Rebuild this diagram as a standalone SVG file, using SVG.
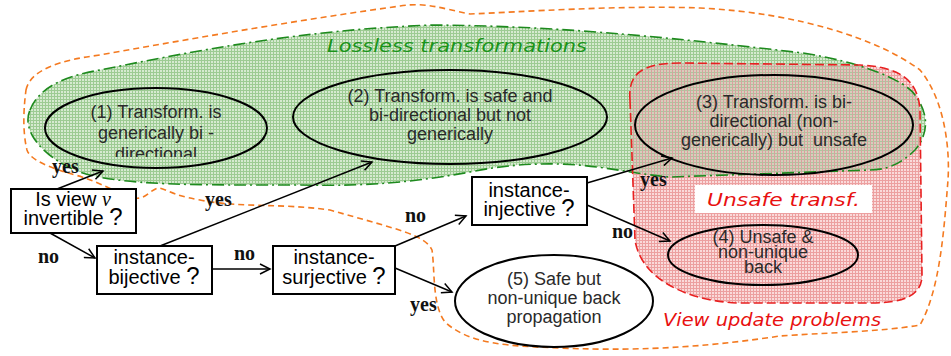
<svg xmlns="http://www.w3.org/2000/svg" width="951" height="356" viewBox="0 0 951 356">
<defs>
<pattern id="pg" width="3" height="3" patternUnits="userSpaceOnUse">
<rect width="3" height="3" fill="#d6ead0"/>
<path d="M0,0.5H3M0.5,0V3" stroke="#9dcb93" stroke-width="1"/>
</pattern>
<pattern id="pr" width="3" height="3" patternUnits="userSpaceOnUse">
<rect width="3" height="3" fill="#fadada"/>
<path d="M0,0.5H3M0.5,0V3" stroke="#eca0a0" stroke-width="1"/>
</pattern>
<pattern id="po" width="3" height="3" patternUnits="userSpaceOnUse">
<rect width="3" height="3" fill="#d9ccbc"/>
<path d="M0,0.5H3" stroke="#a9c79d" stroke-width="1"/>
<path d="M0.5,0V3" stroke="#d7a39e" stroke-width="1"/>
</pattern>
<path id="gpath" d="M 30,110 C 40,85 70,75 100,70 C 200,50 300,30 433,25 C 550,26 650,35 803,53 C 860,62 905,80 915,95 C 930,115 928,135 915,150 C 900,165 885,170 870,170 L 670,177 C 640,175 600,165 560,164 C 520,163 490,168 470,172 C 400,185 350,186 300,185 C 200,185 120,186 80,172 C 60,165 40,150 32,135 C 27,125 27,117 30,110 Z"/>
<path id="rpath" d="M 630,100 C 628,75 640,63 680,63 L 860,65 C 900,67 918,80 920,110 L 922,275 C 922,295 905,303 870,303 L 737,303 C 680,300 640,275 635,240 Z"/>
<clipPath id="cg"><use href="#gpath"/></clipPath>
<marker id="ah" markerWidth="14" markerHeight="12" refX="11" refY="6" orient="auto" markerUnits="userSpaceOnUse">
<path d="M1,1 L11,6 L1,11" fill="none" stroke="#000" stroke-width="1.5"/>
</marker>
<clipPath id="c1"><rect x="40" y="85" width="240" height="72"/></clipPath>
<clipPath id="c4"><rect x="660" y="220" width="200" height="63"/></clipPath>
</defs>
<style>
.el{fill:none;stroke:#000;stroke-width:2}
.bx{fill:#fff;stroke:#000;stroke-width:2}
.et{font-family:"Liberation Sans",Arial,sans-serif;font-size:18px;fill:#2a2a2a;text-anchor:middle}
.bt{font-family:"Liberation Sans",Arial,sans-serif;font-size:20px;fill:#000;text-anchor:middle}
.q{font-size:24px}
.lb{font-family:"Liberation Serif",serif;font-size:20px;font-weight:bold;fill:#111}
.hw{font-family:"DejaVu Sans",sans-serif;font-style:italic;font-size:17px}
.cn{stroke:#000;stroke-width:1.5;fill:none;marker-end:url(#ah)}
</style>
<g id="regions">
<path id="view-update" d="M 26,90 C 30,70 60,60 100,55 C 200,37 300,20 400,6 C 425,2 440,8 470,14 C 520,12 620,5 700,8 C 800,13 880,40 920,70 C 945,100 950,150 948,180 C 944,230 940,290 920,325 C 880,332 820,333 780,336 C 720,345 650,352 560,348 C 510,346 470,345 445,322 C 432,305 435,270 432,250 C 425,235 400,230 330,210 C 280,203 240,208 200,200 C 170,195 165,188 158,188 C 150,190 145,200 135,198 C 110,190 95,180 75,175 C 50,168 30,160 27,150 C 22,130 24,105 26,90 Z" fill="none" stroke="#f47a20" stroke-width="1.6" stroke-dasharray="6,4"/>
<use id="lossless-fill" href="#gpath" fill="url(#pg)"/>
<use id="unsafe-fill" href="#rpath" fill="url(#pr)"/>
<use id="overlap-fill" href="#rpath" fill="url(#po)" clip-path="url(#cg)"/>
<use id="lossless" href="#gpath" fill="none" stroke="#1e8a1e" stroke-width="1.6" stroke-dasharray="12,4,2,4"/>
<use id="unsafe" href="#rpath" fill="none" stroke="#e82020" stroke-width="1.6" stroke-dasharray="9,4"/>
<rect x="695" y="185" width="177" height="28" fill="#fff"/>
<text class="hw" x="327" y="52" textLength="260" lengthAdjust="spacingAndGlyphs" fill="#1a941a">Lossless transformations</text>
<text class="hw" x="707" y="206" textLength="153" lengthAdjust="spacingAndGlyphs" fill="#e81010">Unsafe transf.</text>
<text class="hw" x="663" y="326" textLength="218" lengthAdjust="spacingAndGlyphs" fill="#e81010">View update problems</text>
</g>
<g id="connectors">
<line class="cn" x1="57" y1="189" x2="103" y2="171"/>
<line class="cn" x1="160" y1="246" x2="372" y2="162"/>
<line class="cn" x1="50" y1="233" x2="95" y2="258"/>
<line class="cn" x1="212" y1="269" x2="270" y2="269"/>
<line class="cn" x1="395" y1="246" x2="466" y2="216"/>
<line class="cn" x1="395" y1="268" x2="452" y2="292"/>
<line class="cn" x1="587" y1="183" x2="672" y2="158"/>
<line class="cn" x1="587" y1="205" x2="670" y2="241"/>
<text class="lb" x="52" y="173">yes</text>
<text class="lb" x="205" y="206">yes</text>
<text class="lb" x="38" y="263">no</text>
<text class="lb" x="234" y="260">no</text>
<text class="lb" x="405" y="222">no</text>
<text class="lb" x="410" y="311">yes</text>
<text class="lb" x="640" y="186">yes</text>
<text class="lb" x="612" y="238">no</text>
</g>
<g id="n1">
<ellipse class="el" cx="156" cy="128" rx="111" ry="40"/>
<g clip-path="url(#c1)">
<text class="et" x="156" y="118">(1) Transform. is</text>
<text class="et" x="156" y="139">generically bi -</text>
<text class="et" x="156" y="160">directional</text>
</g>
</g>
<g id="n2">
<ellipse class="el" cx="450" cy="117" rx="157" ry="47"/>
<text class="et" x="450" y="102">(2) Transform. is safe and</text>
<text class="et" x="450" y="121">bi-directional but not</text>
<text class="et" x="450" y="140">generically</text>
</g>
<g id="n3">
<ellipse class="el" cx="774" cy="125" rx="139" ry="50"/>
<text class="et" x="774" y="108">(3) Transform. is bi-</text>
<text class="et" x="774" y="127">directional (non-</text>
<text class="et" x="774" y="146" style="white-space:pre">generically) but  unsafe</text>
</g>
<g id="n4">
<ellipse class="el" cx="763" cy="255" rx="95" ry="30"/>
<g clip-path="url(#c4)">
<text class="et" x="763" y="243">(4) Unsafe &amp;</text>
<text class="et" x="763" y="258">non-unique</text>
<text class="et" x="763" y="273">back</text>
<text class="et" x="787" y="287">..</text>
</g>
</g>
<g id="n5">
<ellipse class="el" cx="554" cy="301" rx="99" ry="46" style="fill:#fff"/>
<text class="et" x="554" y="285">(5) Safe but</text>
<text class="et" x="554" y="304">non-unique back</text>
<text class="et" x="554" y="323">propagation</text>
</g>
<g id="b1">
<rect class="bx" x="11" y="189" width="125" height="44"/>
<text class="bt" x="73" y="206">Is view <tspan font-family="Liberation Serif" font-style="italic" font-size="20">v</tspan></text>
<text class="bt" x="73" y="225">invertible <tspan class="q">?</tspan></text>
</g>
<g id="b2">
<rect class="bx" x="97" y="246" width="115" height="48"/>
<text class="bt" x="154" y="264">instance-</text>
<text class="bt" x="154" y="284">bijective <tspan class="q">?</tspan></text>
</g>
<g id="b3">
<rect class="bx" x="273" y="246" width="122" height="48"/>
<text class="bt" x="334" y="264">instance-</text>
<text class="bt" x="334" y="284">surjective <tspan class="q">?</tspan></text>
</g>
<g id="b4">
<rect class="bx" x="472" y="177" width="115" height="48"/>
<text class="bt" x="529" y="197">instance-</text>
<text class="bt" x="529" y="216">injective <tspan class="q">?</tspan></text>
</g>
</svg>
